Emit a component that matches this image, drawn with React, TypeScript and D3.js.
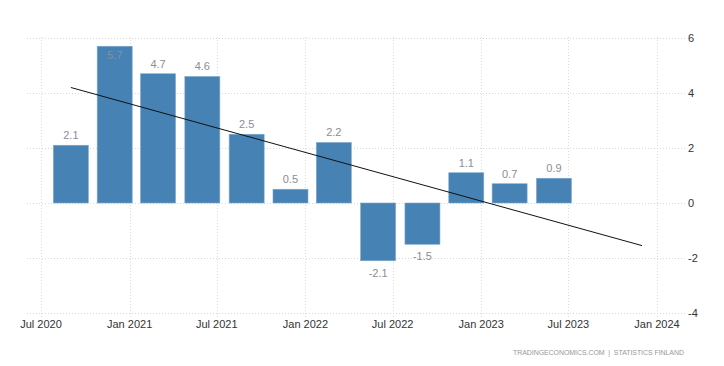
import React from "react";
import * as d3 from "d3";

const quarters = [
  "2020-09-01", "2020-12-01", "2021-03-01", "2021-06-01",
  "2021-09-01", "2021-12-01", "2022-03-01", "2022-06-01",
  "2022-09-01", "2022-12-01", "2023-03-01", "2023-06-01",
];
const values = [2.1, 5.7, 4.7, 4.6, 2.5, 0.5, 2.2, -2.1, -1.5, 1.1, 0.7, 0.9];
const trendDates = ["2020-09-01", "2023-12-01"];
const trendValues = [4.2, -1.55];
const xTickDates = [
  "2020-07-01", "2021-01-01", "2021-07-01", "2022-01-01",
  "2022-07-01", "2023-01-01", "2023-07-01", "2024-01-01",
];
const yTicks = [-4, -2, 0, 2, 4, 6];

const W = 724;
const H = 366;
const FONT = "'Liberation Sans', Arial, sans-serif";

export default function App() {
  const parse = d3.timeParse("%Y-%m-%d");
  const x = d3
    .scaleTime()
    .domain([parse("2020-07-01")!, parse("2024-01-01")!])
    .range([41, 657]);
  const y = d3.scaleLinear().domain([-4, 6]).range([313, 38]);
  const fmt = d3.timeFormat("%b %Y");
  const barW = 35;
  const line = d3
    .line<[Date, number]>()
    .x((d) => x(d[0]))
    .y((d) => y(d[1]));
  const trend: [Date, number][] = trendDates.map((d, i) => [parse(d)!, trendValues[i]]);

  return (
    <svg
      width={W}
      height={H}
      style={{ position: "absolute", left: 0, top: 0, background: "#fff" }}
      fontFamily={FONT}
    >
      {/* horizontal grid */}
      {yTicks.map((t) => (
        <line
          key={"h" + t}
          x1={27}
          x2={685}
          y1={Math.round(y(t)) + 0.5}
          y2={Math.round(y(t)) + 0.5}
          stroke="#d8d8d8"
          strokeDasharray="1,2"
        />
      ))}
      {/* vertical grid */}
      {xTickDates.map((d) => {
        const xx = Math.round(x(parse(d)!)) + 0.5;
        return (
          <line
            key={"v" + d}
            x1={xx}
            x2={xx}
            y1={37}
            y2={317}
            stroke="#d8d8d8"
            strokeDasharray="1,2"
          />
        );
      })}
      {/* bars */}
      {quarters.map((q, i) => {
        const cx = x(parse(q)!);
        const v = values[i];
        const y0 = y(0);
        const y1 = y(v);
        return (
          <rect
            key={"b" + q}
            x={cx - barW / 2}
            y={Math.min(y0, y1)}
            width={barW}
            height={Math.abs(y1 - y0)}
            fill="#4682b4"
            stroke="#7fa7cc"
            strokeWidth={0.6}
          />
        );
      })}
      {/* trend line */}
      <path d={line(trend) || ""} fill="none" stroke="#111" strokeWidth={1} />
      {/* value labels */}
      {quarters.map((q, i) => {
        const cx = x(parse(q)!);
        const v = values[i];
        let ly = v >= 0 ? y(v) - 10 : y(v) + 12;
        if (ly < 50) ly = y(v) + 9;
        return (
          <text
            key={"l" + q}
            x={cx}
            y={ly}
            dy="0.35em"
            textAnchor="middle"
            fontSize={11}
            fill="#8c8c96"
          >
            {v.toFixed(1)}
          </text>
        );
      })}
      {/* y axis labels */}
      {yTicks.map((t) => (
        <text
          key={"yl" + t}
          x={688}
          y={y(t)}
          dy="0.35em"
          fontSize={11}
          fill="#333"
        >
          {t}
        </text>
      ))}
      {/* x axis labels */}
      {xTickDates.map((d) => (
        <text
          key={"xl" + d}
          x={x(parse(d)!)}
          y={324}
          dy="0.35em"
          textAnchor="middle"
          fontSize={11}
          fill="#333"
        >
          {fmt(parse(d)!)}
        </text>
      ))}
      <text
        x={513}
        y={352.5}
        dy="0.35em"
        fontSize={7}
        fill="#999"
        textLength={171}
        lengthAdjust="spacing"
        style={{ whiteSpace: "pre" }}
      >
        TRADINGECONOMICS.COM  |  STATISTICS FINLAND
      </text>
    </svg>
  );
}
